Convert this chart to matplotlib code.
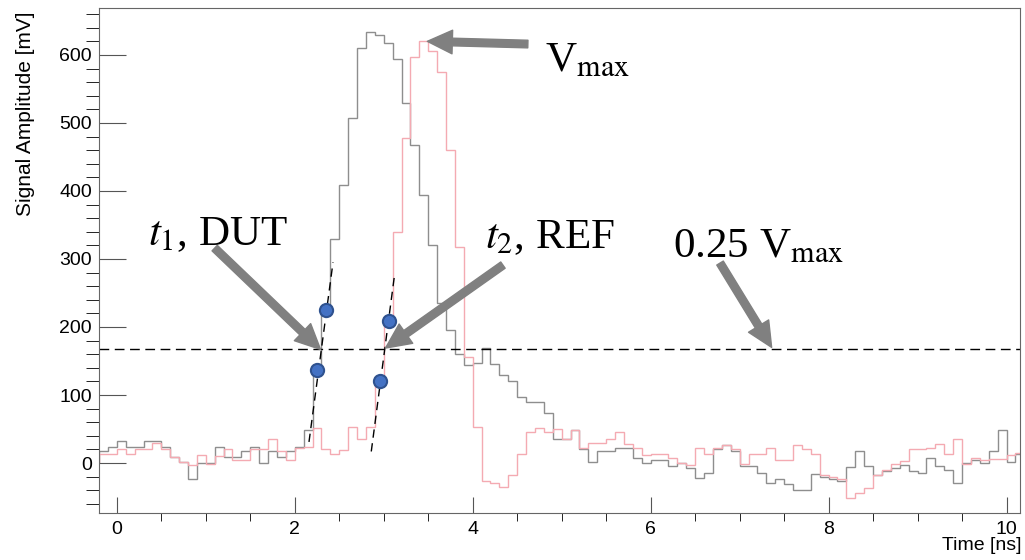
import numpy as np
import matplotlib
matplotlib.use("Agg")
import matplotlib.pyplot as plt
from matplotlib.ticker import MultipleLocator

plt.rcParams['font.family'] = ['Liberation Sans', 'DejaVu Sans']
plt.rcParams['mathtext.fontset'] = 'stix'

# scope traces, 0.1 ns bins starting at -0.2 ns, values in mV
bin_lo = -0.2
bin_w = 0.1

# DUT trace (grey)
dut = [18, 24,
       32, 24, 24, 32, 32, 24, 9, 2, -24, 0,
       0, 24, 9, 9, 17, 24, 0, 17, 9, 17,
       24, 48, 137, 225, 329, 409, 507, 610, 633, 629,
       618, 594, 529, 467, 394, 320, 235, 195, 160, 144,
       147, 169, 145, 130, 120, 97, 90, 90, 73, 35,
       35, 49, 20, 2, 17, 17, 22, 22, 8, 0,
       5, 5, -5, 0, -7, -22, -15, 20, 27, 18,
       -4, -4, -15, -30, -23, -31, -40, -40, -16, -21,
       -23, -26, -6, 17, -5, -18, -12, -7, -3, -12,
       -15, 8, -4, -10, -30, 0, 5, 0, 18, 48,
       2, 13]

# REF trace (pink)
ref = [14, 14,
       20, 13, 21, 21, 30, 20, 9, 2, -3, 12,
       -1, 10, 20, 4, 4, 20, 20, 36, 17, 5,
       22, 24, 52, 21, 14, 19, 53, 36, 53, 120,
       209, 340, 478, 597, 621, 606, 575, 460, 317, 156,
       53, -27, -30, -35, -18, 14, 45, 52, 45, 50,
       36, 49, 22, 30, 30, 36, 45, 28, 22, 12,
       13, 13, 8, 0, -3, 22, 13, 22, 27, 20,
       -2, 13, 13, 22, 5, 5, 27, 20, 13, -17,
       -20, -24, -51, -44, -37, -18, -10, -2, 3, 21,
       21, 22, 28, 14, 36, -2, 8, 5, 6, 6,
       12, 15]

# 0.25 Vmax threshold
threshold = 167

# samples around the threshold and the straight lines through them
dut_pts_t = [2.25, 2.35]
dut_pts_v = [137, 225]
ref_pts_t = [2.955, 3.06]
ref_pts_v = [120, 209]
dut_fit_t = [2.16, 2.43]
dut_fit_v = [31, 295]
ref_fit_t = [2.86, 3.12]
ref_fit_v = [17, 275]

edges = bin_lo + bin_w * np.arange(len(dut) + 1)

fig = plt.figure(figsize=(10.25, 5.6), dpi=100)
ax = fig.add_axes([0.0966, 0.0839, 0.8984, 0.9018])

ax.stairs(dut, edges, color='#8e8e8e', lw=1)
ax.stairs(ref, edges, color='#f4aab2', lw=1)

ax.axhline(threshold, color='k', lw=1, dashes=(7, 4))
ax.plot(dut_fit_t, dut_fit_v, color='k', lw=1, dashes=(6, 4))
ax.plot(ref_fit_t, ref_fit_v, color='k', lw=1, dashes=(6, 4))
ax.plot(dut_pts_t, dut_pts_v, 'o', ms=9.5, mfc='#4472C4', mec='#2F528F', mew=1.5, zorder=5)
ax.plot(ref_pts_t, ref_pts_v, 'o', ms=9.5, mfc='#4472C4', mec='#2F528F', mew=1.5, zorder=5)

# grey arrows (tip, tail)
arrows = [((2.29, 167), (1.10, 316)),
          ((3.02, 169), (4.34, 291)),
          ((3.49, 620), (4.62, 616)),
          ((7.36, 170), (6.78, 294))]
for tip, tail in arrows:
    ax.annotate('', xy=tip, xytext=tail,
                arrowprops=dict(arrowstyle='simple,head_length=1.8,head_width=1.7,tail_width=0.55',
                                mutation_scale=10, color='#808080', shrinkA=0, shrinkB=0),
                zorder=6)

tkw = dict(transform=ax.transAxes, fontsize=31, family='Liberation Serif', va='baseline', zorder=7)
ax.text(0.053, 0.531, r'$t_1$, DUT', **tkw)
ax.text(0.419, 0.525, r'$t_2$, REF', **tkw)
ax.text(0.484, 0.875, r'V$_{\mathrm{max}}$', **tkw)
ax.text(0.623, 0.507, r'0.25 V$_{\mathrm{max}}$', **tkw)

ax.set_xlim(-0.2, 10.15)
ax.set_ylim(-73.5, 669)
ax.xaxis.set_major_locator(MultipleLocator(2))
ax.xaxis.set_minor_locator(MultipleLocator(0.5))
ax.yaxis.set_major_locator(MultipleLocator(100))
ax.yaxis.set_minor_locator(MultipleLocator(20))
ax.tick_params(direction='in', top=False, right=False, colors='#555555', labelcolor='k', labelsize=14)
ax.tick_params(axis='x', which='major', length=11.5, pad=6)
ax.tick_params(axis='x', which='minor', length=5.8)
ax.tick_params(axis='y', which='major', length=19.4, pad=5)
ax.tick_params(axis='y', which='minor', length=9.4)
for s in ax.spines.values():
    s.set_color('#666666')

ax.set_ylabel('Signal Amplitude [mV]', fontsize=15, loc='top')
ax.yaxis.set_label_coords(-0.069, 0.993)
ax.set_xlabel('Time [ns]', fontsize=14, loc='right')
ax.xaxis.set_label_coords(1.002, -0.048)

fig.savefig('out.png', dpi=100)
